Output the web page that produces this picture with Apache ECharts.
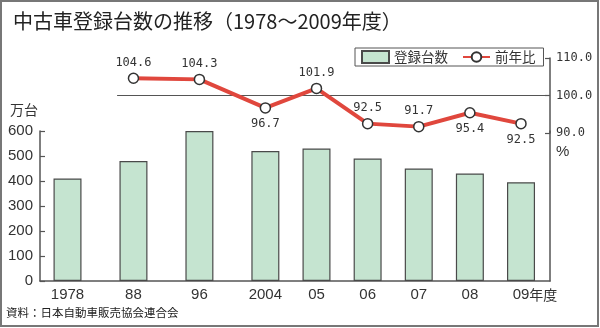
<!DOCTYPE html>
<html>
<head>
<meta charset="utf-8">
<script src="https://cdn.jsdelivr.net/npm/echarts@6/dist/echarts.min.js"></script>
<style>
html,body{margin:0;padding:0;background:#fff;}
#c{width:600px;height:328px;}
</style>
</head>
<body>
<div id="c"></div>
<script>
// ---- data ----
const categories = ['1978', '88', '96', '2004', '05', '06', '07', '08', '09'];
const registrations = [410, 480, 600, 520, 530, 490, 450, 430, 395]; // 万台
const yoyRatio = [null, 104.6, 104.3, 96.7, 101.9, 92.5, 91.7, 95.4, 92.5]; // 前年比 %
const leftTicks = [0, 100, 200, 300, 400, 500, 600];
const rightTicks = [90.0, 100.0, 110.0];

// ---- layout helpers (not data) ----
const wideGap = 1.29; // the earlier years are spaced a bit wider
const pos = [];
categories.forEach((c, i) => { pos.push(i === 0 ? 0 : pos[i - 1] + (i <= 3 ? wideGap : 1)); });
const xMin = -0.538, xMax = 9.437;
const labelPos = ['top', 'top', 'top', 'bottom', 'top', 'top', 'top', 'bottom', 'bottom'];

const narrow = '"Liberation Sans Narrow","Arial Narrow","Liberation Sans",sans-serif';
const mono = '"DejaVu Sans Mono",monospace';
const cjk = '"Noto Sans CJK JP",sans-serif';
const axisColor = '#555';

const barData = categories.map((c, i) => [pos[i], registrations[i]]);
const lineData = [];
categories.forEach((c, i) => {
  if (yoyRatio[i] != null) {
    lineData.push({ value: [pos[i], yoyRatio[i]], label: { position: labelPos[i] } });
  }
});

const chart = echarts.init(document.getElementById('c'), null, { renderer: 'canvas' });
chart.setOption({
  animation: false,
  backgroundColor: '#fff',
  title: {
    text: '中古車登録台数の推移（1978～2009年度）',
    left: 8, top: 6,
    textStyle: { fontFamily: cjk, fontSize: 20, fontWeight: 'normal', color: '#222' }
  },
  legend: {
    left: 355, top: 48,
    padding: [2, 8, 2, 6],
    itemGap: 14,
    itemWidth: 27, itemHeight: 12,
    borderColor: axisColor, borderWidth: 1,
    textStyle: { fontFamily: cjk, fontSize: 13.5, color: '#333', lineHeight: 13 },
    data: [{ name: '登録台数', icon: 'rect' }, { name: '前年比' }]
  },
  grid: [
    { left: 40, right: 50, top: 131, bottom: 47 },
    { left: 40, right: 50, top: 58, bottom: 195 }
  ],
  xAxis: [
    {
      type: 'value', gridIndex: 0, min: xMin, max: xMax,
      splitLine: { show: false },
      axisLine: { show: true, onZero: false, lineStyle: { color: axisColor, width: 1.5 } },
      axisTick: { show: false },
      axisLabel: {
        customValues: pos,
        margin: 6,
        fontFamily: narrow, fontSize: 15, color: '#333',
        formatter: function (v) {
          const i = pos.findIndex(p => Math.abs(p - v) < 1e-6);
          if (i < 0) return '';
          if (i === categories.length - 1) return '{pad|}' + categories[i] + '{u|年度}';
          return categories[i];
        },
        rich: {
          pad: { width: 28 },
          u: { fontFamily: cjk, fontSize: 14, color: '#333' }
        }
      }
    },
    {
      type: 'value', gridIndex: 1, min: xMin, max: xMax, show: false,
      axisLine: { onZero: false },
      splitLine: { show: false }
    }
  ],
  yAxis: [
    {
      type: 'value', gridIndex: 0, position: 'left', min: leftTicks[0], max: leftTicks[leftTicks.length - 1], interval: 100,
      splitLine: { show: false },
      axisLine: { show: true, onZero: false, lineStyle: { color: axisColor, width: 1.5 } },
      axisTick: { show: true, inside: true, length: 5, lineStyle: { color: axisColor, width: 1.2 } },
      axisLabel: { margin: 7, fontFamily: narrow, fontSize: 15, color: '#333' }
    },
    {
      type: 'value', gridIndex: 1, position: 'right', min: rightTicks[0], max: rightTicks[rightTicks.length - 1], interval: 10,
      splitLine: { show: false },
      axisLine: { show: true, onZero: false, lineStyle: { color: axisColor, width: 1.5 } },
      axisTick: { show: true, inside: true, length: 5, lineStyle: { color: axisColor, width: 1.2 } },
      axisLabel: { margin: 6, fontFamily: mono, fontSize: 12, color: '#333', formatter: v => v.toFixed(1) }
    },
    {
      type: 'value', gridIndex: 0, position: 'right', min: 0, max: 600,
      splitLine: { show: false },
      axisLine: { show: true, onZero: false, lineStyle: { color: axisColor, width: 1.5 } },
      axisTick: { show: false }, axisLabel: { show: false }
    }
  ],
  series: [
    {
      name: '登録台数', type: 'bar', xAxisIndex: 0, yAxisIndex: 0,
      data: barData, barWidth: 28,
      itemStyle: { color: '#c5e4d0', borderColor: '#4a4a4a', borderWidth: 1.2 }
    },
    {
      name: '前年比', type: 'line', xAxisIndex: 1, yAxisIndex: 1,
      data: lineData,
      symbol: 'circle', symbolSize: 10,
      lineStyle: { color: '#e0473d', width: 4 },
      itemStyle: { color: '#fff', borderColor: '#333', borderWidth: 1.5 },
      label: {
        show: true, distance: 4,
        fontFamily: mono, fontSize: 12, color: '#333',
        formatter: p => p.value[1].toFixed(1)
      },
      markLine: {
        silent: true, symbol: 'none', z: 1,
        lineStyle: { color: axisColor, width: 1.2, type: 'solid' },
        label: { show: false },
        data: [[{ coord: [0.97, 100] }, { coord: [xMax, 100] }]]
      },
      z: 3
    }
  ],
  graphic: [
    { type: 'rect', shape: { x: 1, y: 1, width: 597, height: 325 }, style: { fill: 'none', stroke: '#777', lineWidth: 2 }, silent: true },
    { type: 'text', left: 10, top: 103, style: { text: '万台', font: '14px ' + cjk, fill: '#333' } },
    { type: 'text', left: 556, top: 144, style: { text: '%', font: '15px ' + narrow, fill: '#333' } },
    { type: 'text', left: 6, top: 307, style: { text: '資料：日本自動車販売協会連合会', font: '11.5px ' + cjk, fill: '#222' } }
  ]
});
</script>
</body>
</html>
